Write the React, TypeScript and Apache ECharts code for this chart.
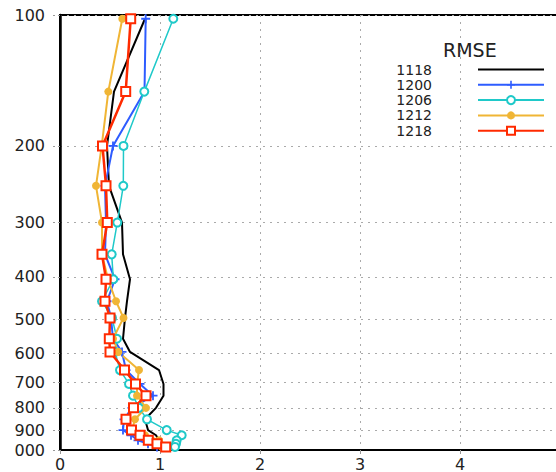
import { useEffect, useRef } from "react";
import * as echarts from "echarts";

// pressure levels (hPa) of the profile points, top to bottom
const levels = [102, 150, 200, 247, 300, 355, 405, 455, 497, 555, 595, 655, 705, 750, 800, 850, 900, 925, 950, 968, 984];

const seriesNames = ["1118", "1200", "1206", "1212", "1218"];
const s1118 = [0.85, 0.54, 0.47, 0.49, 0.62, 0.63, 0.70, 0.67, 0.65, 0.63, 0.70, 0.99, 1.035, 1.035, 0.96, 0.85, 0.88, 0.96, 0.99, 0.98, 0.97];
const s1200 = [0.857, 0.845, 0.53, 0.45, 0.46, 0.45, 0.55, 0.47, 0.51, 0.53, 0.62, 0.66, 0.80, 0.93, 0.72, 0.64, 0.63, 0.71, 0.78, 0.88, 0.97];
const s1206 = [1.133, 0.843, 0.635, 0.633, 0.573, 0.517, 0.533, 0.42, 0.52, 0.57, 0.55, 0.60, 0.69, 0.73, 0.79, 0.87, 1.067, 1.217, 1.167, 1.16, 1.15];
const s1212 = [0.623, 0.483, 0.417, 0.36, 0.42, 0.42, 0.48, 0.56, 0.635, 0.53, 0.583, 0.79, 0.77, 0.77, 0.86, 0.75, 0.72, 0.85, 0.99, 1.0, 1.02];
const s1218 = [0.707, 0.657, 0.425, 0.46, 0.473, 0.42, 0.46, 0.45, 0.50, 0.493, 0.50, 0.645, 0.755, 0.86, 0.735, 0.66, 0.715, 0.80, 0.883, 0.97, 1.057];

const yTickValues = [100, 200, 300, 400, 500, 600, 700, 800, 900, 1000];
const yTickLabels = ["100", "200", "300", "400", "500", "600", "700", "800", "900", "000"];

const FONT = "DejaVu Sans";
const plusPath = "path://M4,0h2v4h4v2h-4v4h-2v-4h-4v-2h4z";

export default function App() {
  const ref = useRef<HTMLDivElement>(null);
  useEffect(() => {
    if (!ref.current) return;
    const chart = echarts.init(ref.current, null, { renderer: "svg" });
    const lg = (p: number) => Math.log10(p);
    const mk = (vals: number[]) => vals.map((v, i) => [v, lg(levels[i])]);
    const yLabel = (v: number) => {
      const i = yTickValues.findIndex((t) => Math.abs(lg(t) - v) < 1e-6);
      return i >= 0 ? yTickLabels[i] : "";
    };
    const gridLine = { show: true, lineStyle: { color: "#aaa", type: [2, 5], width: 1 } };
    chart.setOption({
      animation: false,
      backgroundColor: "#fff",
      textStyle: { fontFamily: FONT },
      title: {
        text: "RMSE",
        left: 443,
        top: 40,
        padding: 0,
        textStyle: { fontSize: 19, fontWeight: "normal", color: "#222", fontFamily: FONT },
      },
      legend: {
        orient: "vertical",
        right: 11,
        top: 62.5,
        padding: 0,
        align: "right",
        itemWidth: 66,
        itemHeight: 10,
        itemGap: 1.3,
        selectedMode: false,
        data: [{ name: seriesNames[0], itemStyle: { opacity: 0 } }, ...seriesNames.slice(1)],
        textStyle: { fontSize: 14, color: "#222", fontFamily: FONT, lineHeight: 10, padding: [0, 41, 0, 0] },
      },
      grid: {
        left: 60,
        top: 15,
        width: 500,
        height: 435,
        containLabel: false,
        outerBoundsMode: "none",
        show: true,
        borderColor: "#000",
        borderWidth: 2,
      },
      xAxis: {
        type: "value",
        min: 0,
        max: 5,
        interval: 1,
        axisLine: { show: true, lineStyle: { color: "#000", width: 2 } },
        axisTick: { show: true, length: 4, lineStyle: { color: "#999", width: 1 } },
        axisLabel: { margin: 6, fontSize: 16, color: "#222", fontFamily: FONT, showMaxLabel: false },
        splitLine: gridLine,
      },
      yAxis: {
        type: "value",
        inverse: true,
        min: 2,
        max: 3,
        axisLine: { show: true, lineStyle: { color: "#000", width: 2.5 } },
        axisTick: { show: true, length: 9, customValues: yTickValues.map(lg), lineStyle: { color: "#999", type: [2, 3] } },
        axisLabel: {
          customValues: yTickValues.map(lg),
          formatter: (v: number) => yLabel(v),
          margin: 15,
          fontSize: 16,
          color: "#222",
          fontFamily: FONT,
          hideOverlap: false,
        },
        splitLine: gridLine,
      },
      series: [
        {
          name: seriesNames[0],
          type: "line",
          data: mk(s1118),
          symbol: "none",
          lineStyle: { color: "#000", width: 2 },
          itemStyle: { color: "#000" },
        },
        {
          name: seriesNames[1],
          type: "line",
          data: mk(s1200),
          symbol: plusPath,
          symbolSize: 9,
          lineStyle: { color: "#2e5cff", width: 2 },
          itemStyle: { color: "#2e5cff" },
        },
        {
          name: seriesNames[2],
          type: "line",
          data: mk(s1206),
          symbol: "emptyCircle",
          symbolSize: 8,
          lineStyle: { color: "#1fc9c9", width: 1.5 },
          itemStyle: { color: "#1fc9c9", borderWidth: 1.5 },
        },
        {
          name: seriesNames[3],
          type: "line",
          data: mk(s1212),
          symbol: "circle",
          symbolSize: 8,
          lineStyle: { color: "#f0b535", width: 2 },
          itemStyle: { color: "#f0b535" },
        },
        {
          name: seriesNames[4],
          type: "line",
          data: mk(s1218),
          symbol: "rect",
          symbolSize: 9,
          lineStyle: { color: "#ff2a00", width: 2.5 },
          itemStyle: { color: "#fff", borderColor: "#ff2a00", borderWidth: 2 },
        },
      ],
    });
    return () => chart.dispose();
  }, []);
  return <div ref={ref} style={{ position: "absolute", left: 0, top: 0, width: 556, height: 472 }} />;
}
